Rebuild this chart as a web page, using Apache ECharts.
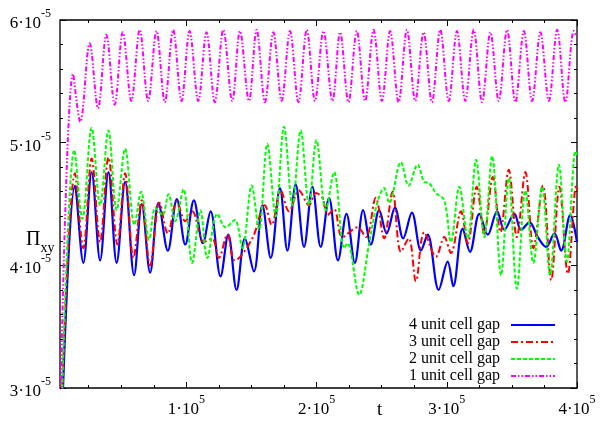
<!DOCTYPE html>
<html>
<head>
<meta charset="utf-8">
<script src="https://cdn.jsdelivr.net/npm/echarts@6/dist/echarts.min.js"></script>
<style>html,body{margin:0;padding:0;background:#fff}#c{width:602px;height:422px}</style>
</head>
<body>
<div id="c"></div>
<script>
// Pi_xy values are in units of 1e-5; t in simulation time units
const seriesNames = ['4 unit cell gap', '3 unit cell gap', '2 unit cell gap', '1 unit cell gap'];

const t4 = [5000,14500,20900,27300,33800,40200,46500,53000,59900,65800,72200,78600,85800,92700,99200,105800,112700,118600,126300,132200,138600,145000,151900,158400,164800,171900,177600,184000,190400,196800,203200,209600,216500,223000,229400,235800,241700,248100,253800,260200,266500,273200,280200,285300,293800,300700,305000,312200,317800,325000,331500,338600,344200,351900,357100,363500,369900,376300,382700,387800,394800,400000];
const pi4 = [2.9,4.65,4.02,4.76,4.04,4.76,4.02,4.68,3.92,4.50,3.94,4.51,4.12,4.54,4.17,4.53,4.18,4.44,3.91,4.25,3.80,4.22,3.95,4.49,4.06,4.63,4.12,4.66,4.15,4.64,4.15,4.55,4.04,4.42,4.02,4.45,4.17,4.45,4.26,4.47,4.22,4.43,4.12,4.25,3.80,4.03,3.83,4.30,4.11,4.42,4.25,4.44,4.29,4.42,4.29,4.35,4.23,4.15,4.26,4.12,4.41,4.19];

const t3 = [4500,14500,20900,27300,33800,40200,47100,53000,59400,65800,72200,79400,85800,92700,99200,104500,113500,119900,125000,131500,137300,150700,160200,165500,172500,178800,186500,194200,199400,204500,208400,213500,219900,231500,237900,245500,251900,258400,264800,270800,276300,282700,291700,298100,303200,310900,316100,323000,328800,335300,341200,347600,353800,360400,366500,373800,380200,386500,393000,399400,400000];
const pi3 = [2.9,4.75,4.14,4.87,4.19,4.88,4.17,4.75,4.06,4.53,4.00,4.51,4.26,4.52,4.36,4.44,4.19,4.22,4.06,4.25,4.04,4.22,4.49,4.33,4.61,4.44,4.61,4.49,4.59,4.55,4.41,4.46,4.23,4.31,4.23,4.55,4.22,4.60,4.11,4.22,3.87,4.27,4.07,4.23,4.10,4.44,4.18,4.64,4.26,4.72,4.27,4.78,4.23,4.76,4.14,4.65,3.88,4.64,3.93,4.65,4.61];

const t2 = [4500,14000,20200,27300,33800,40200,46500,53000,60200,65300,71500,76300,81700,86300,91500,97800,104500,110900,116100,123800,130200,137300,143000,150200,155800,162200,168600,175000,181500,187800,194200,199900,207100,213500,221200,223800,232700,240400,246800,251900,255800,264800,270700,277600,282700,286500,291700,298100,303200,309600,316100,322500,328800,334800,341700,347600,353800,360400,366500,373200,379300,386100,392200,398800,400000];
const pi2 = [2.9,4.94,4.38,5.12,4.49,5.10,4.45,4.95,4.33,4.60,4.21,4.47,4.41,4.58,4.36,4.62,4.02,4.45,4.06,4.42,4.31,4.37,4.14,4.65,4.29,4.99,4.40,5.13,4.49,5.10,4.49,5.02,4.45,4.76,4.14,4.18,3.76,4.18,4.52,4.63,4.51,4.84,4.65,4.82,4.68,4.67,4.59,4.53,4.19,4.64,4.22,4.86,4.23,4.89,3.92,4.71,3.81,4.61,4.02,4.64,3.92,4.82,4.03,4.93,4.90];

const t1 = [3500,13000,18600,25800,32200,38600,45000,51200,57800,64200,70700,77100,83500,89900,96300,102500,109200,115500,121900,128400,135300,141200,148100,154000,160400,166800,173200,179600,186100,192500,198800,205300,212200,218100,224500,230900,237300,243800,250200,256500,263000,269400,275800,282200,288600,295000,301500,307800,314200,320700,327100,333500,339900,346300,352700,359200,365500,371900,378400,384800,391100,397600,400000];
const pi1 = [2.95,5.56,5.17,5.81,5.28,5.88,5.31,5.90,5.34,5.92,5.34,5.91,5.33,5.92,5.34,5.91,5.34,5.90,5.33,5.92,5.34,5.91,5.34,5.92,5.33,5.90,5.34,5.91,5.33,5.92,5.34,5.91,5.34,5.90,5.33,5.91,5.34,5.92,5.34,5.91,5.33,5.92,5.34,5.90,5.33,5.92,5.34,5.91,5.34,5.92,5.33,5.90,5.34,5.92,5.33,5.91,5.34,5.90,5.34,5.92,5.33,5.91,5.86];

const xMajorTicks = [100000, 200000, 300000, 400000];
const xMinorTicks = [25000,50000,75000,125000,150000,175000,225000,250000,275000,325000,350000,375000];
const yTickLabels = ['3', '4', '5', '6'];

const FONT = "'Liberation Serif','Times New Roman',serif";
const zip = (a, b) => a.map((v, i) => [v, b[i]]);

const chart = echarts.init(document.getElementById('c'), null, {renderer: 'canvas'});

const richLabel = {
  m: {fontFamily: FONT, fontSize: 17, color: '#000', verticalAlign: 'bottom', lineHeight: 24},
  e: {fontFamily: FONT, fontSize: 12, color: '#000', verticalAlign: 'top', lineHeight: 24}
};

function xAx(position, ticks, len, labels) {
  return {
    type: 'value', min: 3000, max: 400000, position: position,
    axisLine: {show: false}, splitLine: {show: false},
    axisTick: {show: true, inside: true, length: len, customValues: ticks, lineStyle: {color: '#000', width: 1}},
    axisLabel: labels ? {
      show: true, customValues: xMajorTicks, margin: 6,
      formatter: v => '{m|' + Math.round(v / 100000) + '·10}{e|5}',
      rich: richLabel
    } : {show: false}
  };
}

function yAx(position, labels) {
  return {
    type: 'value', min: 3, max: 6, interval: 1, position: position,
    axisLine: {show: false}, splitLine: {show: false},
    axisTick: {show: true, inside: true, length: 6, lineStyle: {color: '#000', width: 1}},
    minorTick: {show: true, splitNumber: 5, length: 3, lineStyle: {color: '#000', width: 1}},
    axisLabel: labels ? {
      show: true, margin: 9,
      formatter: v => '{m|' + yTickLabels[Math.round(v) - 3] + '·10}{e|-5}',
      rich: richLabel
    } : {show: false}
  };
}

const styles = [
  {color: '#0000ff', width: 2.2, type: 'solid'},
  {color: '#ff0000', width: 2, type: [7, 3, 2, 3]},
  {color: '#00ff00', width: 2, type: [4, 2]},
  {color: '#ff00ff', width: 2, type: [5, 2, 1.5, 2, 1.5, 2]}
];
const datasets = [zip(t4, pi4), zip(t3, pi3), zip(t2, pi2), zip(t1, pi1)];

chart.setOption({
  animation: false,
  grid: {left: 60, right: 25, top: 20, bottom: 34, show: true, borderColor: '#000', borderWidth: 1.3, backgroundColor: 'transparent'},
  xAxis: [xAx('bottom', xMajorTicks, 6, true), xAx('bottom', xMinorTicks, 3, false), xAx('top', xMajorTicks, 6, false), xAx('top', xMinorTicks, 3, false)],
  yAxis: [yAx('left', true), yAx('right', false)],
  legend: {
    orient: 'vertical', align: 'right', right: 46, top: 317, padding: 0,
    itemWidth: 44, itemHeight: 17, itemGap: 1,
    itemStyle: {opacity: 0},
    textStyle: {fontFamily: FONT, fontSize: 16, color: '#000', padding: [0, 6, 0, 0]},
    data: seriesNames
  },
  graphic: [
    {type: 'text', left: 377, top: 401, style: {text: 't', fontFamily: FONT, fontSize: 19, fill: '#000'}},
    {type: 'text', left: 26, top: 230, style: {
      text: '{a|Π}{b|xy}',
      rich: {
        a: {fontFamily: FONT, fontSize: 20, fill: '#000', verticalAlign: 'top', lineHeight: 25},
        b: {fontFamily: FONT, fontSize: 14, fill: '#000', verticalAlign: 'bottom', lineHeight: 25}
      }
    }}
  ],
  series: datasets.map((d, i) => ({
    name: seriesNames[i], type: 'line', xAxisIndex: 0, yAxisIndex: 0,
    data: d, showSymbol: false, symbol: 'none', smooth: 0.35, clip: true,
    lineStyle: styles[i], itemStyle: {color: styles[i].color}, z: 2 + i
  }))
});
</script>
</body>
</html>
